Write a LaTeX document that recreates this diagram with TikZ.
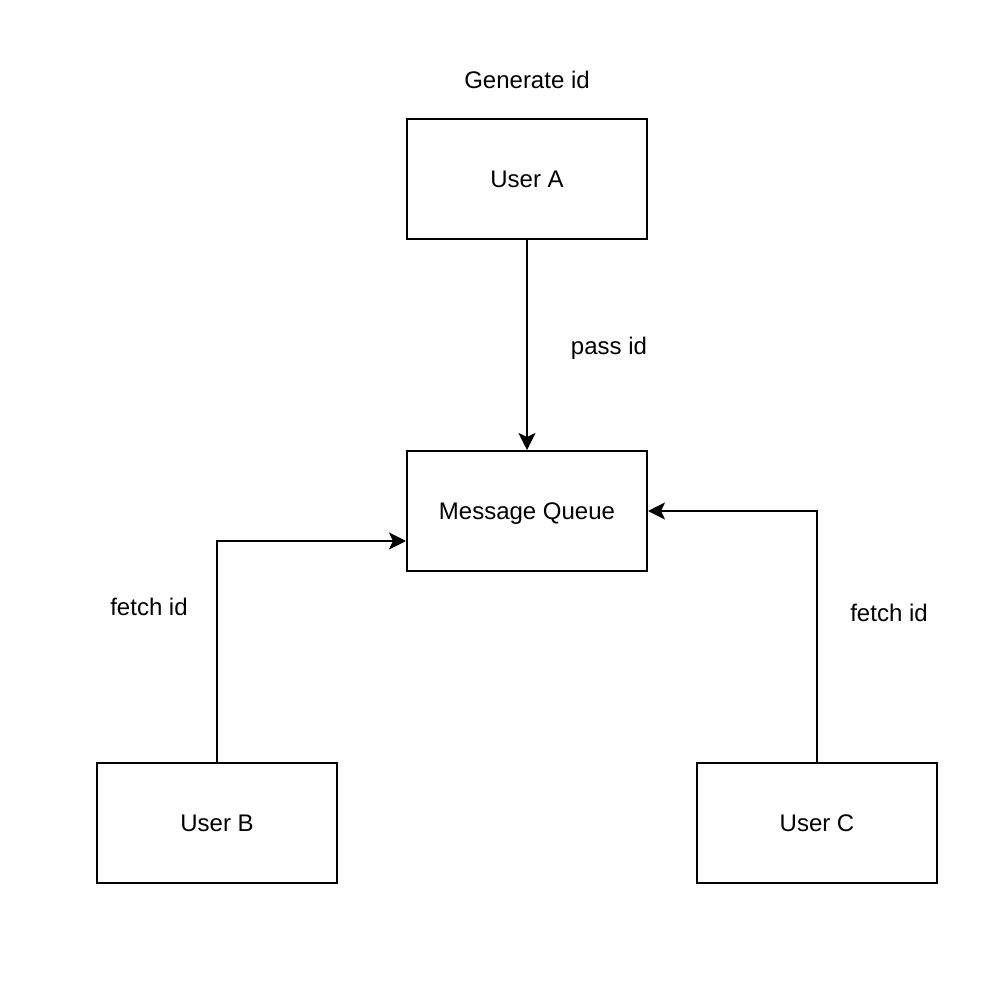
\documentclass[tikz,border=0pt]{standalone}
\usepackage{fontspec}
\setmainfont{Liberation Sans}
\usetikzlibrary{arrows.meta}

\tikzset{
  userbox/.style={draw, line width=1pt, minimum width=120pt, minimum height=60pt, inner sep=0pt},
  flow/.style={-{Stealth[length=8.5pt, width=8.5pt, inset=2pt]}, line width=1pt},
  lbl/.style={font=\fontsize{12}{14}\selectfont}
}

\begin{document}
\begin{tikzpicture}[x=0.5pt, y=-0.5pt, font=\fontsize{12}{14}\selectfont,
    every node/.append style={text height=8.6pt, text depth=0pt}]
    \useasboundingbox[fill=white] (0,0) rectangle (990,988);

    % Boxes
    \node[userbox] (A) at (527,179) {User A};
    \node[userbox] (MQ) at (527,511) {Message Queue};
    \node[userbox] (B) at (217,823) {User B};
    \node[userbox] (C) at (817,823) {User C};

    % Labels
    \node[lbl] (gen) at (527,80) {Generate id};
    \node[lbl] (pass) at (609,346) {pass id};
    \node[lbl] (fetchB) at (149,607) {fetch id};
    \node[lbl] (fetchC) at (889,613) {fetch id};

    % Arrows
    \draw[flow] (A) -- (MQ);
    \draw[flow] (B.north) |- ([yshift=-15pt]MQ.west);
    \draw[flow] (C.north) |- (MQ.east);
\end{tikzpicture}
\end{document}
